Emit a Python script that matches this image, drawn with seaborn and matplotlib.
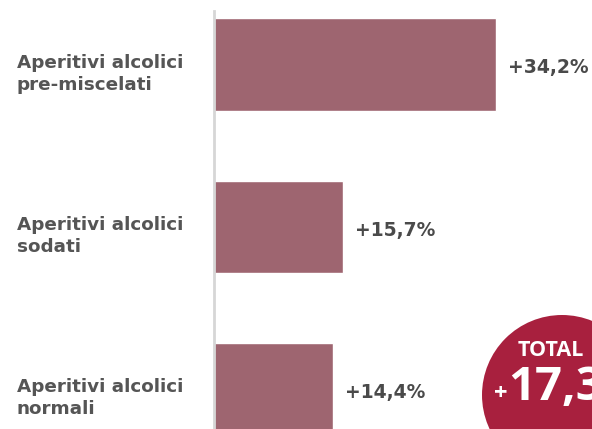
import matplotlib
matplotlib.use("Agg")
import matplotlib.pyplot as plt
import matplotlib.transforms as mtransforms
from matplotlib.patches import Circle
import pandas as pd
import seaborn as sns

categories = ["Aperitivi alcolici\npre-miscelati", "Aperitivi alcolici\nsodati", "Aperitivi alcolici\nnormali"]
values = [34.2, 15.7, 14.4]
value_labels = ["+34,2%", "+15,7%", "+14,4%"]
total_title = "TOTAL"
total_value = "+17,3"

df = pd.DataFrame({"cat": categories, "val": values})

sns.set_style("white")
plt.rcParams["font.family"] = ["DejaVu Sans"]

W, H = 592, 429
fig = plt.figure(figsize=(W / 100, H / 100), dpi=100)
ax = fig.add_axes([214 / W, 0, (585 - 214) / W, 418 / H])

sns.barplot(data=df, x="val", y="cat", orient="h", color="#9e6570",
            saturation=1, width=0.57, ax=ax)

ax.set_xlim(0, 45)
ax.set_ylim(2.243, -0.33)
ax.set_xlabel("")
ax.set_ylabel("")
ax.set_xticks([])
ax.set_yticks([])
for side in ["top", "right", "bottom"]:
    ax.spines[side].set_visible(False)
ax.spines["left"].set_color("#d6d6d6")
ax.spines["left"].set_linewidth(2)

# value labels next to bars
offset = mtransforms.offset_copy(ax.transData, fig=fig, x=12, y=0, units="dots")
for i, (v, lab) in enumerate(zip(values, value_labels)):
    ax.text(v, i + 0.02, lab, transform=offset, ha="left", va="center",
            fontsize=13.5, fontweight="bold", color="#4a4a4a")

# category labels at the left
blend = mtransforms.blended_transform_factory(fig.transFigure, ax.transData)
for i, c in enumerate(categories):
    ax.text(17 / W, i + 0.055, c, transform=blend, ha="left", va="center",
            fontsize=13.2, fontweight="bold", color="#555555", linespacing=1.28,
            clip_on=False)

# total badge
circ = Circle((562, H - 395), 80, transform=mtransforms.IdentityTransform(),
              facecolor="#a8203e", edgecolor="none")
fig.add_artist(circ)
fig.text(551 / W, 1 - 350 / H, total_title, ha="center", va="center",
         fontsize=15.5, fontweight="bold", color="white", family="Open Sans")
fig.text(501 / W, 1 - 394 / H, "+", ha="center", va="center",
         fontsize=17, fontweight="bold", color="white", family="Open Sans")
fig.text(508 / W, 1 - 388 / H, total_value[1:], ha="left", va="center",
         fontsize=34, fontweight="bold", color="white", family="Open Sans")

fig.savefig("out.png", dpi=100)
